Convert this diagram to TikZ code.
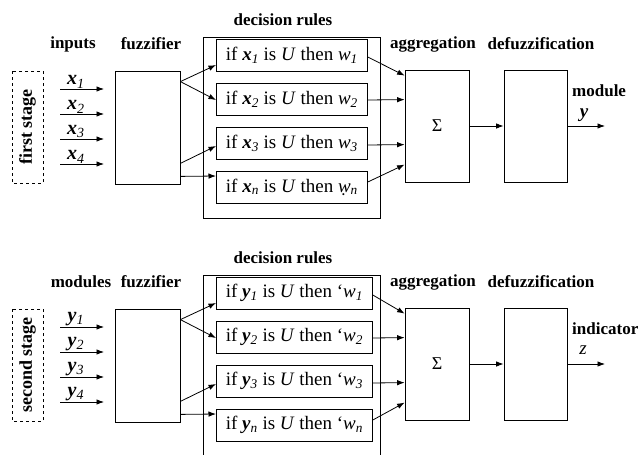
\documentclass[tikz,border=0pt]{standalone}
\usepackage{fontspec}
\setmainfont{Liberation Serif}
\usetikzlibrary{arrows.meta,calc}
\newcommand\sbs[1]{\textsubscript{\itshape #1}}
\tikzset{
 lbl/.style={font=\fontsize{17}{20}\selectfont\bfseries, inner sep=0},
 box/.style={draw, line width=0.8pt, inner sep=0},
 rulebox/.style={draw, line width=0.8pt, minimum height=32pt, inner sep=0, anchor=west, font=\fontsize{19}{22}\selectfont},
 stagebox/.style={draw, dashed, line width=0.8pt, rotate=90, minimum width=112pt, minimum height=31pt, inner sep=0, font=\fontsize{18}{20}\selectfont\bfseries},
 arr/.style={line width=0.8pt, -{Latex[length=7.5pt,width=5.5pt]}},
 var/.style={font=\fontsize{20}{22}\selectfont\itshape, inner sep=0},
 outvar/.style={font=\fontsize{19}{22}\selectfont\itshape, inner sep=0}
}
% #1 prefix, #2 variable, #3 w of rules 1-3, #4 w of rule n, #5 rule width
\newcommand\drawstage[5]{%
 \node[lbl] (#1fzl) at (151,44) {fuzzifier};
 \node[lbl] (#1drl) at (283,20) {decision rules};
 \node[lbl] (#1agl) at (433,44) {aggregation};
 \node[lbl] (#1dfl) at (541,44) {defuzzification};
 \node[box, minimum width=65pt, minimum height=113pt] (#1fuz) at (147.5,127.5) {};
 \node[box, minimum width=177pt, minimum height=181pt] (#1dr) at (291.5,127.5) {};
 \node[rulebox, minimum width=#5] (#1r1) at (216,55) {if \textbf{\textit{#2}}\sbs{1} is \textit{U} then #3\sbs{1}};
 \node[rulebox, minimum width=#5] (#1r2) at (216,99) {if \textbf{\textit{#2}}\sbs{2} is \textit{U} then #3\sbs{2}};
 \node[rulebox, minimum width=#5] (#1r3) at (216,143) {if \textbf{\textit{#2}}\sbs{3} is \textit{U} then #3\sbs{3}};
 \node[rulebox, minimum width=#5] (#1r4) at (216,187) {if \textbf{\textit{#2}}\sbs{n} is \textit{U} then #4\sbs{n}};
 \node[box, minimum width=64pt, minimum height=112pt, font=\fontsize{18}{20}\selectfont] (#1ag) at (437,126) {\raisebox{-4pt}{Σ}};
 \node[box, minimum width=63pt, minimum height=112pt] (#1def) at (535.5,126) {};
 \foreach \i/\yy in {1/89,2/114,3/139,4/164}{
  \coordinate (#1a\i) at (60,\yy);
  \coordinate (#1b\i) at (104,\yy);
  \draw[arr] (#1a\i) -- node[var, above=0.5pt, pos=0.36] {\textbf{\textit{#2}}\sbs{\i}} (#1b\i);
 }
 \draw[arr] ($(#1fuz.north east)+(0,11)$) -- ($(#1r1.west)+(0,10)$);
 \draw[arr] ($(#1fuz.north east)+(0,11)$) -- ($(#1r2.west)+(0,1)$);
 \draw[arr] ($(#1fuz.south east)+(0,-21)$) -- ($(#1r3.west)+(0,3)$);
 \draw[arr] ($(#1fuz.south east)+(0,-8)$) -- ($(#1r4.west)+(0,-11)$);
 \draw[arr] ($(#1r1.east)+(0,2)$) -- ($(#1ag.north west)+(0,6)$);
 \draw[arr] ($(#1r2.east)+(0,1)$) -- ($(#1ag.north west)+(0,30)$);
 \draw[arr] ($(#1r3.east)+(0,2)$) -- ($(#1ag.north west)+(0,75)$);
 \draw[arr] ($(#1r4.east)+(0,-5)$) -- ($(#1ag.north west)+(0,95)$);
 \draw[arr] (#1ag.east) -- (#1def.west);
 \coordinate (#1out) at (605,126);
 \draw[arr] (#1def.east) -- (#1out);
}
\begin{document}
\begin{tikzpicture}[x=1pt,y=-1pt]
 \clip (0,0) rectangle (640,455);
 % first stage
 \node[stagebox] (s1) at (27.5,127) {first stage};
 \node[lbl] (inl) at (73,44) {inputs};
 \drawstage{A}{x}{\textit{w}}{{\itshape\d{w}}}{151pt}
 \node[lbl, anchor=west] (modl) at (572,91) {module};
 \node[outvar] (yv) at (584,115) {\textbf{y}};
 % second stage
 \begin{scope}[yshift=-238pt]
  \node[stagebox] (s2) at (27.5,127) {second stage};
  \node[lbl] (modsl) at (81,44) {modules};
  \drawstage{B}{y}{\textquoteleft\textit{w}}{\textquoteleft\textit{w}}{156pt}
  \node[lbl, anchor=west] (indl) at (572,91) {indicator};
  \node[outvar] (zv) at (583,112) {z};
 \end{scope}
\end{tikzpicture}
\end{document}
